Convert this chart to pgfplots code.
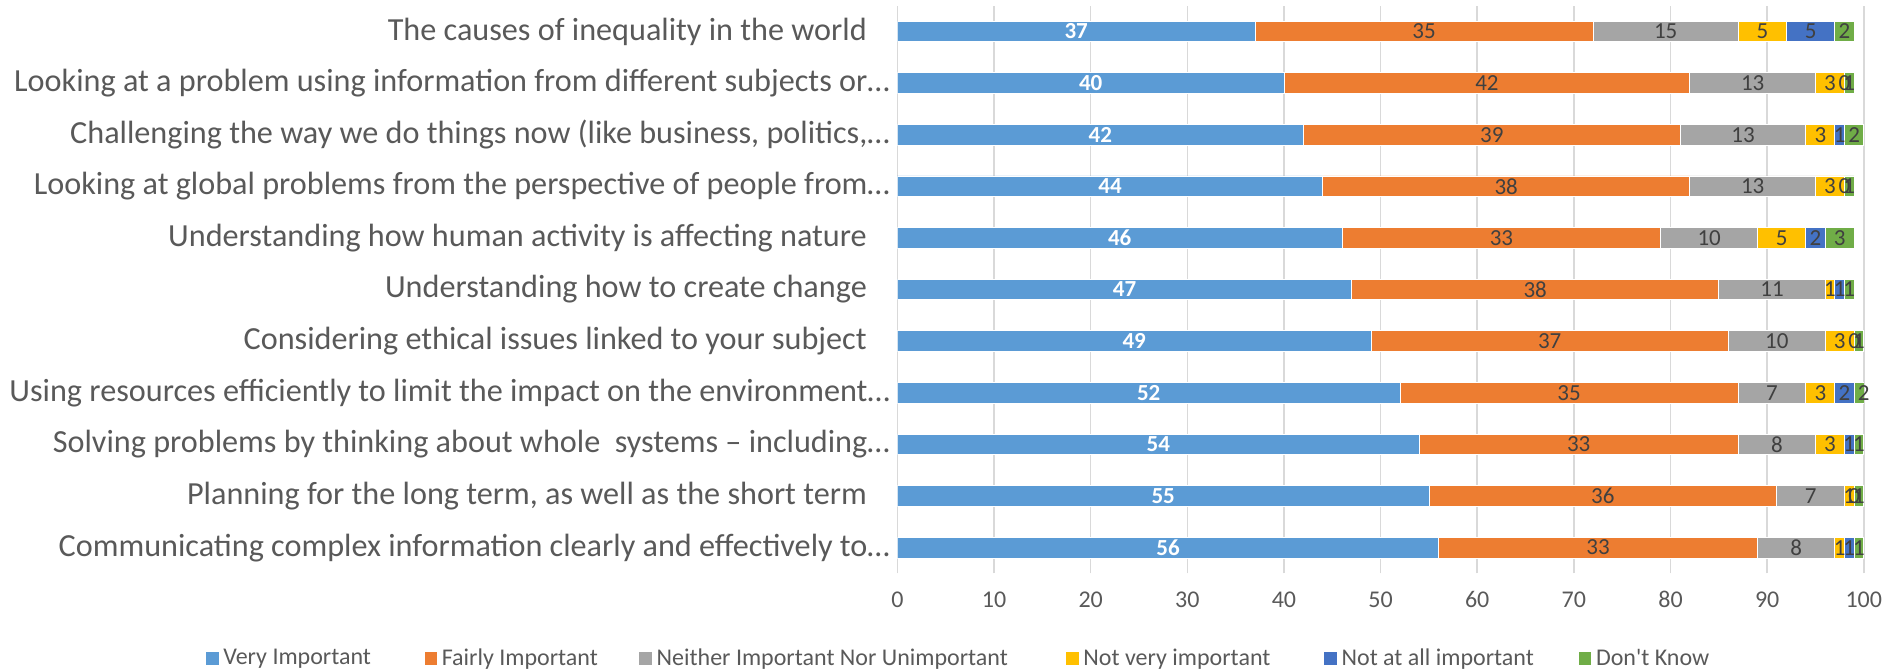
\documentclass[border=0pt]{standalone}
\usepackage{pgfplots}
\usepackage{pgfplotstable}
\pgfplotsset{compat=1.18}
\usepackage{fontspec}
\setmainfont{Carlito}
\definecolor{cA}{HTML}{5B9BD5}
\definecolor{cB}{HTML}{ED7D31}
\definecolor{cC}{HTML}{A5A5A5}
\definecolor{cD}{HTML}{FFC000}
\definecolor{cE}{HTML}{4472C4}
\definecolor{cF}{HTML}{70AD47}
\definecolor{txt}{HTML}{595959}
\definecolor{lbl}{HTML}{404040}
\definecolor{grd}{HTML}{D9D9D9}

\pgfplotstableread{
y a b c d e f
10 37 35 15 5 5 2
9 40 42 13 3 0 1
8 42 39 13 3 1 2
7 44 38 13 3 0 1
6 46 33 10 5 2 3
5 47 38 11 1 1 1
4 49 37 10 3 0 1
3 52 35 7 3 2 2
2 54 33 8 3 1 1
1 55 36 7 1 0 1
0 56 33 8 1 1 1
}\data
\pgfplotstablecreatecol[create col/expr={\thisrow{a}/2}]{ca}\data
\pgfplotstablecreatecol[create col/expr={\thisrow{a}+\thisrow{b}/2}]{cb}\data
\pgfplotstablecreatecol[create col/expr={\thisrow{a}+\thisrow{b}+\thisrow{c}/2}]{cc}\data
\pgfplotstablecreatecol[create col/expr={\thisrow{a}+\thisrow{b}+\thisrow{c}+\thisrow{d}/2}]{cd}\data
\pgfplotstablecreatecol[create col/expr={\thisrow{a}+\thisrow{b}+\thisrow{c}+\thisrow{d}+\thisrow{e}/2}]{ce}\data
\pgfplotstablecreatecol[create col/expr={\thisrow{a}+\thisrow{b}+\thisrow{c}+\thisrow{d}+\thisrow{e}+\thisrow{f}/2}]{cf}\data

\pgfplotsset{
  base/.style={
    width=483.2pt, height=283.9pt, scale only axis,
    xmin=0, xmax=100, ymin=-0.5, ymax=10.5,
  },
  lab/.style={only marks, mark=*, mark size=0pt, mark options={draw=none,fill=none},
    nodes near coords, point meta=explicit symbolic,
    nodes near coords style={anchor=center, inner sep=0pt, font=\fontsize{11.5}{13}\selectfont, text=lbl}},
}

\begin{document}
\begin{tikzpicture}
\begin{axis}[base,
  name=main,
  xbar stacked, bar width=10.35pt,
  axis line style={draw=none},
  major tick length=0pt,
  xtick={0,10,...,100},
  xmajorgrids, grid style={color=grd, line width=0.75pt},
  ytick={0,...,10},
  yticklabels={
    Communicating complex information clearly and effectively to…,
    Planning for the long term{,} as well as the short term\hspace*{11.5pt},
    Solving problems by thinking about whole~ systems – including…,
    Using resources efficiently to limit the impact on the environment…,
    Considering ethical issues linked to your subject\hspace*{11.5pt},
    Understanding how to create change\hspace*{11.5pt},
    Understanding how human activity is affecting nature\hspace*{11.5pt},
    Looking at global problems from the perspective of people from…,
    Challenging the way we do things now (like business{,} politics{,}…,
    Looking at a problem using information from different subjects or…,
    The causes of inequality in the world\hspace*{11.5pt}
  },
  yticklabel style={anchor=east, inner sep=0pt, xshift=-3.6pt, text=txt, font=\fontsize{16.1}{19}\selectfont},
  xticklabel style={text=txt, font=\fontsize{12}{14}\selectfont, yshift=-5.5pt},
  /pgf/number format/assume math mode=true,
  legend columns=6,
  legend style={at={(-0.7167,-0.150)}, anchor=west, draw=none, fill=none, inner sep=0pt,
    font=\fontsize{12}{14}\selectfont, text=txt,
    /tikz/column 2/.style={column sep=24.3pt},
    /tikz/column 4/.style={column sep=18.3pt},
    /tikz/column 6/.style={column sep=26.7pt},
    /tikz/column 8/.style={column sep=24.5pt},
    /tikz/column 10/.style={column sep=20pt},
    nodes={inner xsep=2pt}},
  legend image code/.code={\fill[#1] (0pt,-3.35pt) rectangle (6.7pt,3.35pt);},
]
\addplot[fill=cA, draw=white, line width=0.4pt] table[x=a, y=y] {\data};
\addplot[fill=cB, draw=white, line width=0.4pt] table[x=b, y=y] {\data};
\addplot[fill=cC, draw=white, line width=0.4pt] table[x=c, y=y] {\data};
\addplot[fill=cD, draw=white, line width=0.4pt] table[x=d, y=y] {\data};
\addplot[fill=cE, draw=white, line width=0.4pt] table[x=e, y=y] {\data};
\addplot[fill=cF, draw=white, line width=0.4pt] table[x=f, y=y] {\data};
\legend{Very Important, Fairly Important, Neither Important Nor Unimportant, Not very important, Not at all important, Don\textquotesingle t Know}
\end{axis}
\begin{axis}[base, hide axis]
\addplot[lab, nodes near coords style={text=white, font=\fontsize{11.5}{13}\selectfont\bfseries}] table[x=ca, y=y, meta=a] {\data};
\addplot[lab] table[x=cb, y=y, meta=b] {\data};
\addplot[lab] table[x=cc, y=y, meta=c] {\data};
\addplot[lab] table[x=cd, y=y, meta=d] {\data};
\addplot[lab] table[x=ce, y=y, meta=e] {\data};
\addplot[lab] table[x=cf, y=y, meta=f] {\data};
\end{axis}
\pgfresetboundingbox
\useasboundingbox (-448.7pt,-49.2pt) rectangle (498.3pt,286.7pt);
\end{tikzpicture}
\end{document}
